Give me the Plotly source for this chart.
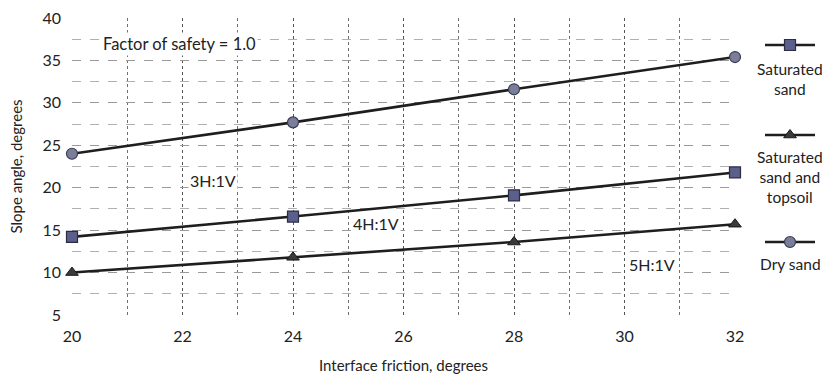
import plotly.graph_objects as go

friction = [20, 24, 28, 32]
saturated_sand = [14.2, 16.6, 19.1, 21.8]
sand_topsoil = [10.0, 11.8, 13.6, 15.7]
dry_sand = [24.0, 27.7, 31.6, 35.4]

series_names = ["Saturated<br>sand", "Saturated<br>sand and<br>topsoil", "Dry sand"]
slope_labels = ["3H:1V", "4H:1V", "5H:1V"]
slope_label_x = [22.55, 25.5, 30.5]
slope_label_y = [20.9, 15.8, 10.9]
x_ticks = [20, 22, 24, 26, 28, 30, 32]
y_ticks = [5, 10, 15, 20, 25, 30, 35, 40]

FONT = "Lato, 'Open Sans', sans-serif"
TXT = "#222222"

fig = go.Figure()

styles = [
    dict(symbol="square", size=11, color="#5b5f8c", line=dict(color="#2b2d45", width=1.2)),
    dict(symbol="triangle-up", size=11, color="#3a3a3a", line=dict(color="#1a1a1a", width=1)),
    dict(symbol="circle", size=11, color="#7a7e98", line=dict(color="#3a3c52", width=1.2)),
]
data = [saturated_sand, sand_topsoil, dry_sand]

for ys, st, nm in zip(data, styles, series_names):
    fig.add_trace(go.Scatter(
        x=friction, y=ys, mode="lines+markers", name=nm,
        line=dict(color="#1e1e1e", width=2.6),
        marker=st, cliponaxis=False, showlegend=False,
        xaxis="x", yaxis="y"))

# legend keys on a separate small axis
legend_key_y = [45, 135, 242]
legend_text_y = [79, 177, 264]
for st, ky in zip(styles, legend_key_y):
    fig.add_trace(go.Scatter(
        x=[0, 0.5, 1], y=[ky, ky, ky], mode="lines",
        line=dict(color="#1e1e1e", width=2.6), showlegend=False,
        xaxis="x2", yaxis="y2", hoverinfo="skip"))
    fig.add_trace(go.Scatter(
        x=[0.5], y=[ky], mode="markers", marker=st, showlegend=False,
        xaxis="x2", yaxis="y2", hoverinfo="skip", cliponaxis=False))

for nm, ty in zip(series_names, legend_text_y):
    fig.add_annotation(x=0.5, y=ty, xref="x2", yref="y2", text=nm,
                       showarrow=False, align="center",
                       font=dict(family=FONT, size=15.5, color=TXT))

for lb, lx, ly in zip(slope_labels, slope_label_x, slope_label_y):
    fig.add_annotation(x=lx, y=ly, xref="x", yref="y", text=lb, showarrow=False,
                       bgcolor="white", font=dict(family=FONT, size=16, color=TXT))

fig.add_annotation(x=21.95, y=36.9, xref="x", yref="y", text="Factor of safety = 1.0",
                   showarrow=False, bgcolor="white",
                   font=dict(family=FONT, size=16.5, color=TXT))

W, H = 831, 379
ml, mr, mt, mb = 72, 5, 18, 64
pw = W - ml - mr
x_end = (735 - ml) / pw

fig.update_layout(
    width=W, height=H,
    margin=dict(l=ml, r=mr, t=mt, b=mb, autoexpand=False),
    plot_bgcolor="white", paper_bgcolor="white",
    font=dict(family=FONT, color=TXT),
    xaxis=dict(domain=[0, x_end], range=[20, 32], tickvals=x_ticks,
               showgrid=True, gridcolor="#555555", gridwidth=1, griddash="dot",
               minor=dict(dtick=1, showgrid=True, gridcolor="#707070", griddash="dot", gridwidth=1),
               zeroline=False, showline=False, ticks="", automargin=False,
               ticklabelstandoff=10,
               tickfont=dict(size=16, family=FONT, color=TXT),
               title=dict(text="Interface friction, degrees", standoff=16,
                          font=dict(size=15, family=FONT, color=TXT))),
    yaxis=dict(range=[5, 40], tickvals=y_ticks,
               showgrid=True, gridcolor="#9a9a9a", gridwidth=1, griddash="dash",
               minor=dict(dtick=2.5, showgrid=True, gridcolor="#b0b0b0", griddash="dash", gridwidth=1),
               zeroline=False, showline=False, ticks="", automargin=False,
               ticklabelstandoff=10,
               tickfont=dict(size=16, family=FONT, color=TXT),
               title=dict(text="Slope angle, degrees", standoff=16,
                          font=dict(size=15, family=FONT, color=TXT))),
    xaxis2=dict(domain=[(765 - ml) / pw, (815 - ml) / pw], range=[0, 1], visible=False,
                anchor="y2"),
    yaxis2=dict(domain=[0, 1], range=[H - mb, mt], visible=False, anchor="x2"),
)

fig.write_html("out.html", config={"displayModeBar": False},
               post_script="document.body.style.margin='0';document.body.style.overflow='hidden';")
